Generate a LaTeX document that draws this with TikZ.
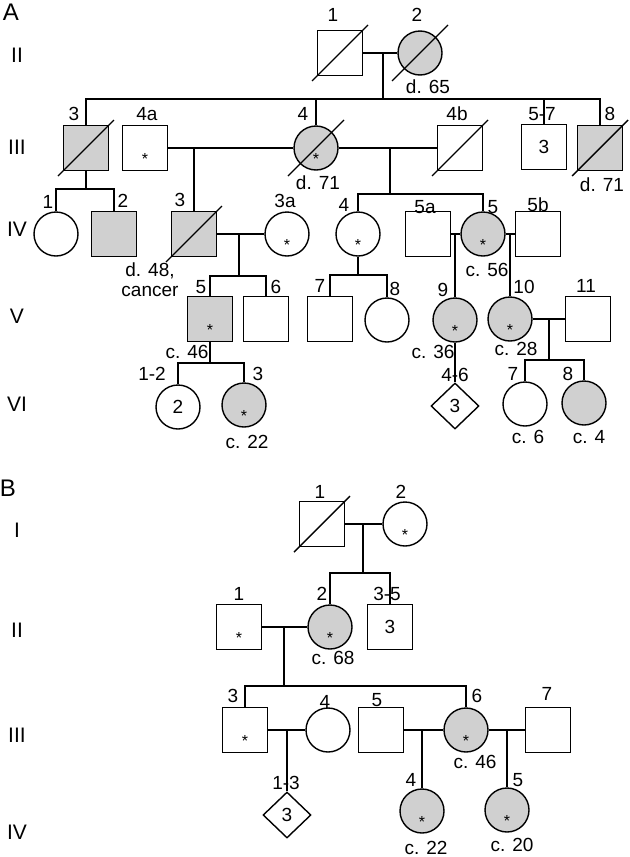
\documentclass[tikz,border=0pt]{standalone}
\usepackage{fontspec}
\setmainfont{Liberation Sans}
\usetikzlibrary{shapes.geometric}
\definecolor{affgray}{RGB}{208,208,208}
\tikzset{
	person/.style={draw, line width=0.7pt, inner sep=0pt, font=\fontsize{9.5}{10}\selectfont},
	male/.style={person, rectangle, minimum width=22.5pt, minimum height=22.5pt},
	female/.style={person, ellipse, minimum width=22pt, minimum height=22pt},
	unknown/.style={person, diamond, minimum width=24pt, minimum height=23pt},
	aff/.style={fill=affgray},
	lab/.style={inner sep=0pt, font=\fontsize{9.5}{10}\selectfont},
	gen/.style={inner sep=0pt, font=\fontsize{10.5}{11}\selectfont},
	panel/.style={inner sep=0pt, font=\fontsize{12}{12}\selectfont},
	star/.style={inner sep=0pt, font=\fontsize{8}{8}\selectfont},
	link/.style={line width=0.7pt}
}
\newcommand{\deceased}[1] % {node}
{
	\draw [link] ([shift={(-28,28)}]#1.center) -- ([shift={(28,-28)}]#1.center);
}
\newcommand{\tested}[1] % {node}
{
	\node [star] (#1s) at ([yshift=-5.7pt]#1.center) {*};
}
\begin{document}
\begin{tikzpicture}[x=0.5pt,y=-0.5pt]
	\useasboundingbox (0,0) rectangle (629,857);
	
	% panel A
	\node[panel] (pa) at (11,12) {A};
	\node[gen] (ga2) at (17,55) {II};
	\node[gen] (ga3) at (17,147) {III};
	\node[gen] (ga4) at (17,229) {IV};
	\node[gen] (ga5) at (17,316) {V};
	\node[gen] (ga6) at (17,404) {VI};
	
	% generation II
	\node[male] (a21) at (340,53) {};
	\node[female, aff] (a22) at (420,53) {};
	\deceased{a21}
	\deceased{a22}
	\node[lab] (a21l) at (333,15) {1};
	\node[lab] (a22l) at (417,15) {2};
	\node[lab] (a22d) at (428,87) {d. 65};
	
	% generation III
	\node[male, aff] (a33) at (86,148) {};
	\node[male] (a34a) at (145,148) {};
	\node[female, aff] (a34) at (316,148) {};
	\node[male] (a34b) at (460,148) {};
	\node[male] (a357) at (544,147) {3};
	\node[male, aff] (a38) at (600,148) {};
	\deceased{a33}
	\deceased{a34}
	\deceased{a34b}
	\deceased{a38}
	\tested{a34a}
	\tested{a34}
	\node[lab] (a33l) at (74,114) {3};
	\node[lab] (a34al) at (147,114) {4a};
	\node[lab] (a34l) at (303,114) {4};
	\node[lab] (a34bl) at (457,114) {4b};
	\node[lab] (a357l) at (542,114) {5-7};
	\node[lab] (a38l) at (610,114) {8};
	\node[lab] (a34d) at (318,183) {d. 71};
	\node[lab] (a38d) at (602,185) {d. 71};
	
	% generation IV
	\node[female] (a41) at (56,234) {};
	\node[male, aff] (a42) at (114,234) {};
	\node[male, aff] (a43) at (194,234) {};
	\node[female] (a43a) at (287,234) {};
	\node[female] (a44) at (358,234) {};
	\node[male] (a45a) at (428,234) {};
	\node[female, aff] (a45) at (483,234) {};
	\node[male] (a45b) at (538,234) {};
	\deceased{a43}
	\tested{a43a}
	\tested{a44}
	\tested{a45}
	\node[lab] (a41l) at (48,202) {1};
	\node[lab] (a42l) at (123,201) {2};
	\node[lab] (a43l) at (180,200) {3};
	\node[lab] (a43al) at (285,201) {3a};
	\node[lab] (a44l) at (344,205) {4};
	\node[lab] (a45al) at (425,207) {5a};
	\node[lab] (a45l) at (493,207) {5};
	\node[lab] (a45bl) at (538,205) {5b};
	\node[lab, align=center] (a43d) at (150,280) {d. 48,\\cancer};
	\node[lab] (a45d) at (487,270) {c. 56};
	
	% generation V
	\node[male, aff] (a55) at (210,319) {};
	\node[male] (a56) at (266,319) {};
	\node[male] (a57) at (330,319) {};
	\node[female] (a58) at (387,320) {};
	\node[female, aff] (a59) at (455,320) {};
	\node[female, aff] (a510) at (510,319) {};
	\node[male] (a511) at (588,319) {};
	\tested{a55}
	\tested{a59}
	\tested{a510}
	\node[lab] (a55l) at (201,287) {5};
	\node[lab] (a56l) at (276,287) {6};
	\node[lab] (a57l) at (320,286) {7};
	\node[lab] (a58l) at (395,289) {8};
	\node[lab] (a59l) at (443,290) {9};
	\node[lab] (a510l) at (524,287) {10};
	\node[lab] (a511l) at (586,286) {11};
	\node[lab] (a55d) at (187,352) {c. 46};
	\node[lab] (a59d) at (433,352) {c. 36};
	\node[lab] (a510d) at (516,349) {c. 28};
	
	% generation VI
	\node[female] (a61) at (178,407) {2};
	\node[female, aff] (a63) at (244,405) {};
	\node[unknown] (a64) at (455,406) {3};
	\node[female] (a67) at (525,404) {};
	\node[female, aff] (a68) at (584,403) {};
	\tested{a63}
	\node[lab] (a61l) at (152,374) {1-2};
	\node[lab] (a63l) at (258,374) {3};
	\node[lab] (a64l) at (455,375) {4-6};
	\node[lab] (a67l) at (513,374) {7};
	\node[lab] (a68l) at (568,374) {8};
	\node[lab] (a63d) at (247,442) {c. 22};
	\node[lab] (a67d) at (528,437) {c. 6};
	\node[lab] (a68d) at (589,437) {c. 4};
	
	% lines of panel A
	\coordinate (a2m) at (383,53);
	\coordinate (a3s) at (383,99);
	\draw[link] (a21) -- (a22);
	\draw[link] (a2m) -- (a3s);
	\draw[link] (a33.north) |- (a3s) -| (a38.north);
	\draw[link] (a34.north) -- (a34.north |- a3s);
	\draw[link] (a357.north) -- (a357.north |- a3s);
	
	\coordinate (a34am) at (194,148);
	\coordinate (a34bm) at (390,148);
	\coordinate (a4s1) at (86,189);
	\coordinate (a4s2) at (390,194);
	\draw[link] (a34a) -- (a34);
	\draw[link] (a34) -- (a34b);
	\draw[link] (a34am) -- (a43.north);
	\draw[link] (a34bm) -- (a4s2);
	\draw[link] (a44.north) |- (a4s2) -| (a45.north);
	\draw[link] (a33.south) -- (a4s1);
	\draw[link] (a41.north) |- (a4s1) -| (a42.north);
	
	\coordinate (a43m) at (239,234);
	\coordinate (a5s1) at (239,276);
	\coordinate (a5s2) at (358,275);
	\coordinate (a45am) at (455,234);
	\coordinate (a45bm) at (510,234);
	\draw[link] (a43) -- (a43a);
	\draw[link] (a43m) -- (a5s1);
	\draw[link] (a55.north) |- (a5s1) -| (a56.north);
	\draw[link] (a44.south) -- (a5s2);
	\draw[link] (a57.north) |- (a5s2) -| (a58.north);
	\draw[link] (a45a) -- (a45);
	\draw[link] (a45) -- (a45b);
	\draw[link] (a45am) -- (a59.north);
	\draw[link] (a45bm) -- (a510.north);
	
	\coordinate (a510m) at (549,319);
	\coordinate (a6s1) at (210,363);
	\coordinate (a6s2) at (549,360);
	\draw[link] (a510) -- (a511);
	\draw[link] (a510m) -- (a6s2);
	\draw[link] (a67.north) |- (a6s2) -| (a68.north);
	\draw[link] (a55.south) -- (a6s1);
	\draw[link] (a61.north) |- (a6s1) -| (a63.north);
	\draw[link] (a59.south) -- (a64.north);
	
	% panel B
	\node[panel] (pb) at (8,488) {B};
	\node[gen] (gb1) at (17,530) {I};
	\node[gen] (gb2) at (17,630) {II};
	\node[gen] (gb3) at (17,735) {III};
	\node[gen] (gb4) at (17,832) {IV};
	
	% generation I
	\node[male] (b11) at (322,524) {};
	\node[female] (b12) at (405,524) {};
	\deceased{b11}
	\tested{b12}
	\node[lab] (b11l) at (320,492) {1};
	\node[lab] (b12l) at (401,492) {2};
	
	% generation II
	\node[male] (b21) at (239,627) {};
	\node[female, aff] (b22) at (330,627) {};
	\node[male] (b235) at (390,627) {3};
	\tested{b21}
	\tested{b22}
	\node[lab] (b21l) at (239,594) {1};
	\node[lab] (b22l) at (322,594) {2};
	\node[lab] (b235l) at (387,594) {3-5};
	\node[lab] (b22d) at (333,658) {c. 68};
	
	% generation III
	\node[male] (b33) at (245,730) {};
	\node[female] (b34) at (328,730) {};
	\node[male] (b35) at (381,730) {};
	\node[female, aff] (b36) at (466,730) {};
	\node[male] (b37) at (548,730) {};
	\tested{b33}
	\tested{b36}
	\node[lab] (b33l) at (233,696) {3};
	\node[lab] (b34l) at (325,702) {4};
	\node[lab] (b35l) at (377,700) {5};
	\node[lab] (b36l) at (477,696) {6};
	\node[lab] (b37l) at (547,694) {7};
	\node[lab] (b36d) at (475,762) {c. 46};
	
	% generation IV
	\node[unknown] (b4d) at (287,815) {3};
	\node[female, aff] (b44) at (422,811) {};
	\node[female, aff] (b45) at (507,810) {};
	\tested{b44}
	\tested{b45}
	\node[lab] (b4dl) at (286,783) {1-3};
	\node[lab] (b44l) at (411,780) {4};
	\node[lab] (b45l) at (518,780) {5};
	\node[lab] (b44d) at (426,848) {c. 22};
	\node[lab] (b45d) at (512,845) {c. 20};
	
	% lines of panel B
	\coordinate (b1m) at (363,524);
	\coordinate (b2s) at (363,573);
	\draw[link] (b11) -- (b12);
	\draw[link] (b1m) -- (b2s);
	\draw[link] (b22.north) |- (b2s) -| (b235.north);
	
	\coordinate (b2m) at (284,627);
	\coordinate (b3s) at (284,686);
	\draw[link] (b21) -- (b22);
	\draw[link] (b2m) -- (b3s);
	\draw[link] (b33.north) |- (b3s) -| (b36.north);
	
	\coordinate (b3m1) at (287,730);
	\coordinate (b3m2) at (422,730);
	\coordinate (b3m3) at (507,730);
	\draw[link] (b33) -- (b34);
	\draw[link] (b35) -- (b36);
	\draw[link] (b36) -- (b37);
	\draw[link] (b3m1) -- (b4d.north);
	\draw[link] (b3m2) -- (b44.north);
	\draw[link] (b3m3) -- (b45.north);
\end{tikzpicture}
\end{document}
